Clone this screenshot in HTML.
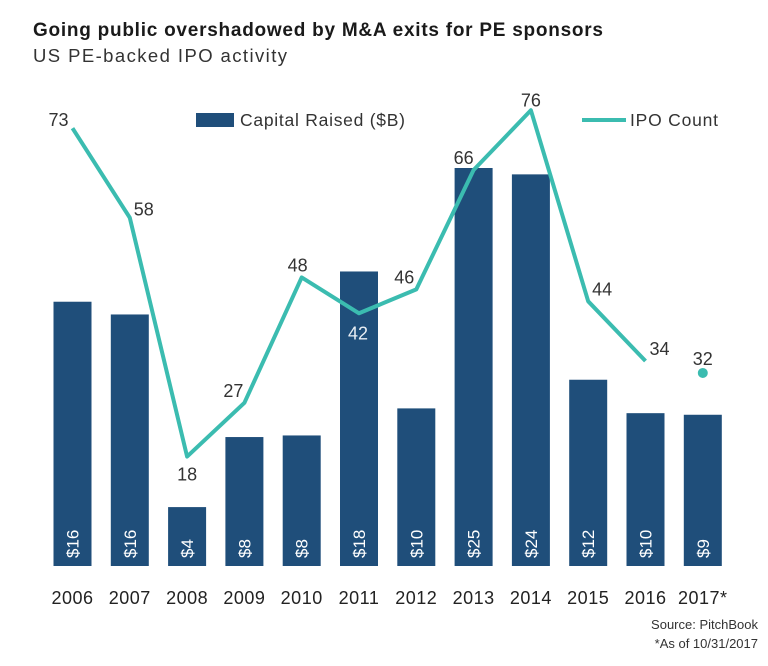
<!DOCTYPE html>
<html><head><meta charset="utf-8">
<style>
body{margin:0;background:#fff;font-family:"Liberation Sans",sans-serif;}
svg text{font-family:"Liberation Sans",sans-serif;}
</style></head>
<body>
<svg width="768" height="661" viewBox="0 0 768 661">
<text x="33" y="36" font-size="19" font-weight="bold" fill="#1a1a1a" textLength="570" lengthAdjust="spacing">Going public overshadowed by M&amp;A exits for PE sponsors</text>
<text x="33" y="62" font-size="18.5" fill="#333" textLength="254" lengthAdjust="spacing">US PE-backed IPO activity</text>
<rect x="196" y="113" width="38" height="14" fill="#1f4e7a"/>
<text x="240" y="126" font-size="17.5" fill="#333" textLength="165" lengthAdjust="spacing">Capital Raised ($B)</text>
<line x1="582" y1="120" x2="626" y2="120" stroke="#3bbcb0" stroke-width="4"/>
<text x="630" y="126" font-size="17.5" fill="#333" textLength="88" lengthAdjust="spacing">IPO Count</text>
<g id="bars"></g><g id="line"></g><g id="labels"></g>
<text x="758" y="629" font-size="13" fill="#333" text-anchor="end">Source: PitchBook</text>
<text x="758" y="648" font-size="13" fill="#333" text-anchor="end">*As of 10/31/2017</text>
</svg>
<script>
const years=["2006","2007","2008","2009","2010","2011","2012","2013","2014","2015","2016","2017*"];
const capital=[16.6,15.8,3.7,8.1,8.2,18.5,9.9,25,24.6,11.7,9.6,9.5];
const capitalLabels=["$16","$16","$4","$8","$8","$18","$10","$25","$24","$12","$10","$9"];
const ipoCount=[73,58,18,27,48,42,46,66,76,44,34,32];
const NS="http://www.w3.org/2000/svg";
const base=566;
const xPos=i=>72.5+i*57.3;
const yBar=v=>base-v*15.92;
const yLine=v=>564-v*5.97;
const labelOff=[[-14,-8],[14,-8],[0,18],[-11,-12],[-4,-12],[-1,20],[-12,-12],[-10,-12],[0,-10],[14,-12],[14,-12],[0,-14]];
function mk(tag,attrs,parent){const e=document.createElementNS(NS,tag);for(const k in attrs)e.setAttribute(k,attrs[k]);parent.appendChild(e);return e;}
const gb=document.getElementById('bars'),gl=document.getElementById('line'),gt=document.getElementById('labels');
years.forEach((y,i)=>{
 const x=xPos(i),t=yBar(capital[i]);
 const r=mk('rect',{x:x-19,y:t,width:38,height:base-t,fill:'#1f4e7a'},gb);
 
 
 const bl=mk('text',{x:0,y:0,'font-size':17,fill:'#fff',transform:`translate(${x+6},558) rotate(-90)`},gb);
 bl.textContent=capitalLabels[i];
 
 
 const yl=mk('text',{x:x,y:604,'font-size':18,fill:'#222','text-anchor':'middle','letter-spacing':'0.5'},gb);
 yl.textContent=y;
 
 
});
const pts=ipoCount.slice(0,11).map((v,i)=>xPos(i)+','+yLine(v)).join(' ');
const pl=mk('polyline',{points:pts,fill:'none',stroke:'#3bbcb0','stroke-width':4,'stroke-linejoin':'round'},gl);


const dot=mk('circle',{cx:xPos(11),cy:yLine(ipoCount[11]),r:5,fill:'#3bbcb0'},gl);


ipoCount.forEach((v,i)=>{
 const o=labelOff[i];
 const t=mk('text',{x:xPos(i)+o[0],y:yLine(v)+o[1]+6,'font-size':18,fill:(i===5?'#e8eef4':'#333'),'text-anchor':'middle'},gt);
 t.textContent=v;
 
 
});
</script>
</body></html>
